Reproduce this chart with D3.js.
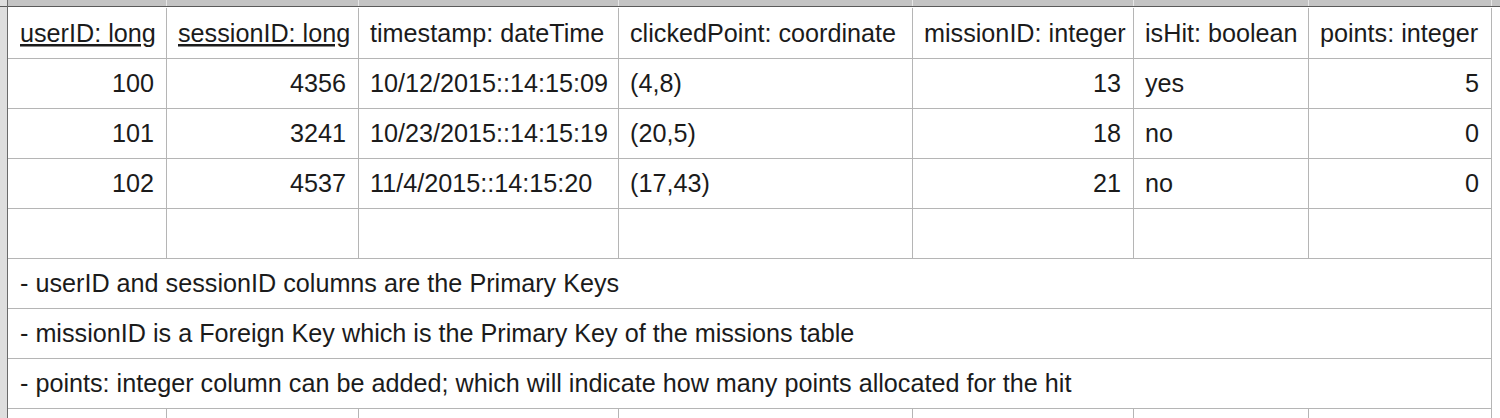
<!DOCTYPE html>
<html>
<head>
<meta charset="utf-8">
<script src="https://cdn.jsdelivr.net/npm/d3@7"></script>
<style>
  body { margin: 0; background: #fff; }
  text { font-family: "Liberation Sans", Arial, Helvetica, sans-serif; font-size: 25.2px; fill: #1b1b1b; }
</style>
</head>
<body>
<div id="sheet"></div>
<script>
// table contents
var columns = ["userID: long", "sessionID: long", "timestamp: dateTime", "clickedPoint: coordinate",
               "missionID: integer", "isHit: boolean", "points: integer"];
var keyColumns = ["userID: long", "sessionID: long"];
var userIDs = [100, 101, 102];
var sessionIDs = [4356, 3241, 4537];
var timestamps = ["10/12/2015::14:15:09", "10/23/2015::14:15:19", "11/4/2015::14:15:20"];
var clickedPoints = ["(4,8)", "(20,5)", "(17,43)"];
var missionIDs = [13, 18, 21];
var isHits = ["yes", "no", "no"];
var points = [5, 0, 0];
var notes = [
  "- userID and sessionID columns are the Primary Keys",
  "- missionID is a Foreign Key which is the Primary Key of the missions table",
  "- points: integer column can be added; which will indicate how many points allocated for the hit"
];

var width = 1500,
    height = 418,
    colWidths = [158, 192, 260, 294, 221, 175, 183],
    gridLeft = 8, gridTop = 8, rowH = 50, pad = 12,
    numeric = [true, true, false, false, true, false, true];

var rows = userIDs.map((d, i) => [d, sessionIDs[i], timestamps[i], clickedPoints[i], missionIDs[i], isHits[i], points[i]]);
var rowKeys = ["header"].concat(rows.map((d, i) => "r" + i), ["blank"], notes.map((d, i) => "n" + i));

var edges = [gridLeft];
colWidths.forEach(w => edges.push(edges[edges.length - 1] + w));
var xScale = d3.scaleOrdinal().domain(columns).range(edges.slice(0, -1));
var wScale = d3.scaleOrdinal().domain(columns).range(colWidths);
var yScale = d3.scaleBand().domain(rowKeys).range([gridTop, gridTop + rowH * rowKeys.length]);
var gridRight = edges[edges.length - 1];

var svg = d3.select("#sheet").append("svg")
    .attr("width", width)
    .attr("height", height);

// spreadsheet chrome
svg.append("rect").attr("x", 0).attr("y", 0).attr("width", width).attr("height", 7).style("fill", "#c4c4c4");
svg.append("rect").attr("x", 0).attr("y", 0).attr("width", 7).attr("height", height).style("fill", "#dedede");
svg.selectAll(".bandsep").data(edges.slice(1)).enter().append("line")
    .attr("x1", d => d + 0.5).attr("x2", d => d + 0.5).attr("y1", 0).attr("y2", 6)
    .style("stroke", "#e6e6e6");
svg.append("line").attr("x1", 0).attr("x2", width).attr("y1", 6.5).attr("y2", 6.5).style("stroke", "#5a5a5a");
svg.append("line").attr("x1", 7.5).attr("x2", 7.5).attr("y1", 0).attr("y2", height).style("stroke", "#6a6a6a");

// horizontal grid lines
var gridColor = "#b5b5b5";
svg.selectAll(".hline").data(rowKeys).enter().append("line")
    .attr("x1", gridLeft).attr("x2", gridRight + 0.5)
    .attr("y1", d => yScale(d) + rowH + 0.5).attr("y2", d => yScale(d) + rowH + 0.5)
    .style("stroke", gridColor);

// vertical grid lines: full columns for header, data and blank rows
var gridRows = rowKeys.slice(0, rows.length + 2);
var bottomGrid = yScale(gridRows[gridRows.length - 1]) + rowH;
svg.selectAll(".vline").data(edges.slice(1)).enter().append("line")
    .attr("x1", d => d + 0.5).attr("x2", d => d + 0.5)
    .attr("y1", gridTop).attr("y2", (d, i) => i === edges.length - 2 ? height : bottomGrid)
    .style("stroke", gridColor);
// the partial row below the notes
var lastBottom = yScale(rowKeys[rowKeys.length - 1]) + rowH;
svg.selectAll(".vline2").data(edges.slice(1, -1)).enter().append("line")
    .attr("x1", d => d + 0.5).attr("x2", d => d + 0.5)
    .attr("y1", lastBottom).attr("y2", height)
    .style("stroke", gridColor);

// header
svg.selectAll(".head").data(columns).enter().append("text")
    .attr("x", d => xScale(d) + pad)
    .attr("y", yScale("header") + 34)
    .style("text-decoration", d => keyColumns.includes(d) ? "underline" : null)
    .text(d => d);

// data cells
rows.forEach((row, r) => {
  svg.selectAll(".cell" + r).data(row).enter().append("text")
    .attr("x", (d, i) => numeric[i] ? xScale(columns[i]) + wScale(columns[i]) - pad : xScale(columns[i]) + pad)
    .attr("y", yScale("r" + r) + 34)
    .style("text-anchor", (d, i) => numeric[i] ? "end" : "start")
    .text(d => d);
});

// notes (merged rows)
svg.selectAll(".note").data(notes).enter().append("text")
    .attr("x", gridLeft + pad)
    .attr("y", (d, i) => yScale("n" + i) + 34)
    .text(d => d);
</script>
</body>
</html>
